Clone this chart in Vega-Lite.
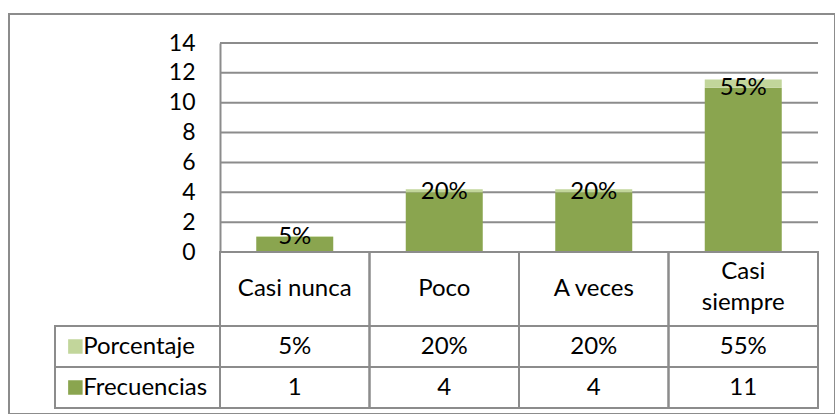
{
  "$schema": "https://vega.github.io/schema/vega-lite/v6.json",
  "width": 826,
  "height": 400,
  "autosize": {"type": "none"},
  "padding": {"left": 9, "top": 14, "right": 0, "bottom": 0},
  "background": "white",
  "config": {
    "view": {"stroke": "#8c8c8c", "strokeWidth": 2},
    "text": {"font": "Lato", "fontSize": 24, "color": "black"}
  },
  "datasets": {
    "d": [
      {"categoria": "Casi nunca", "etiqueta": ["Casi nunca"], "Frecuencias": 1, "Porcentaje": 0.05},
      {"categoria": "Poco", "etiqueta": ["Poco"], "Frecuencias": 4, "Porcentaje": 0.2},
      {"categoria": "A veces", "etiqueta": ["A veces"], "Frecuencias": 4, "Porcentaje": 0.2},
      {"categoria": "Casi siempre", "etiqueta": ["Casi", "siempre"], "Frecuencias": 11, "Porcentaje": 0.55}
    ],
    "series": [{"serie": "Porcentaje"}, {"serie": "Frecuencias"}],
    "ticks": [{"v": 0}, {"v": 2}, {"v": 4}, {"v": 6}, {"v": 8}, {"v": 10}, {"v": 12}, {"v": 14}]
  },
  "resolve": {"scale": {"x": "independent", "y": "independent", "color": "shared"}},
  "layer": [
    {
      "data": {"name": "ticks"},
      "mark": {"type": "rule", "color": "#8c8c8c", "strokeWidth": 2},
      "encoding": {
        "y": {"field": "v", "type": "quantitative", "scale": {"domain": [0, 14], "range": [238, 29], "nice": false, "zero": false},
          "axis": {"values": [0, 2, 4, 6, 8, 10, 12, 14], "offset": -211, "ticks": false, "grid": false, "domain": true, "domainColor": "#8c8c8c", "domainWidth": 2, "labelFont": "Lato", "labelFontSize": 23, "labelColor": "black", "labelPadding": 25, "title": null}},
        "x": {"datum": 0, "type": "quantitative", "scale": {"domain": [0, 1], "range": [211, 809], "nice": false, "zero": false}, "axis": null},
        "x2": {"datum": 1}
      }
    },
    {
      "data": {"name": "d"},
      "transform": [{"fold": ["Frecuencias", "Porcentaje"], "as": ["serie", "valor"]}],
      "mark": {"type": "bar"},
      "encoding": {
        "x": {"field": "categoria", "type": "nominal", "sort": null, "scale": {"type": "band", "range": [211, 809], "paddingInner": 0.485, "paddingOuter": 0.2425}, "axis": null},
        "y": {"field": "valor", "type": "quantitative", "stack": "zero", "scale": {"domain": [0, 14], "range": [238, 29], "nice": false}, "axis": null},
        "color": {"field": "serie", "type": "nominal", "scale": {"domain": ["Porcentaje", "Frecuencias"], "range": ["#c2d69b", "#8aa54f"]}, "legend": null},
        "order": {"field": "serie", "sort": "ascending"}
      }
    },
    {
      "data": {"name": "d"},
      "mark": {"type": "text", "baseline": "middle", "align": "center"},
      "encoding": {
        "x": {"field": "categoria", "type": "nominal", "sort": null, "scale": {"type": "band", "range": [211, 809], "paddingInner": 0, "paddingOuter": 0}, "axis": null},
        "y": {"field": "Frecuencias", "type": "quantitative", "scale": {"domain": [0, 14], "range": [238, 29], "nice": false}, "axis": null},
        "text": {"field": "Porcentaje", "type": "quantitative", "format": ".0%"}
      }
    },
    {
      "data": {"name": "d"},
      "mark": {"type": "rect", "fill": "transparent", "stroke": "#8c8c8c", "strokeWidth": 2},
      "encoding": {
        "x": {"field": "categoria", "type": "nominal", "sort": null, "scale": {"type": "band", "range": [211, 809], "paddingInner": 0, "paddingOuter": 0}, "axis": null},
        "y": {"datum": "h", "type": "nominal", "scale": {"type": "band", "domain": ["h"], "range": [238, 312], "paddingInner": 0, "paddingOuter": 0}, "axis": null}
      }
    },
    {
      "data": {"name": "d"},
      "transform": [{"filter": "datum.categoria !== 'Casi siempre'"}],
      "mark": {"type": "text", "baseline": "middle", "align": "center"},
      "encoding": {
        "x": {"field": "categoria", "type": "nominal", "scale": {"type": "band", "domain": ["Casi nunca", "Poco", "A veces", "Casi siempre"], "range": [211, 809], "paddingInner": 0, "paddingOuter": 0}, "axis": null},
        "y": {"datum": "h", "type": "nominal", "scale": {"type": "band", "domain": ["h"], "range": [238, 312], "paddingInner": 0, "paddingOuter": 0}, "axis": null},
        "text": {"field": "etiqueta", "type": "nominal"}
      }
    },
    {
      "data": {"name": "d"},
      "transform": [{"filter": "datum.categoria === 'Casi siempre'"}],
      "mark": {"type": "text", "baseline": "middle", "align": "center", "lineHeight": 31},
      "encoding": {
        "x": {"field": "categoria", "type": "nominal", "scale": {"type": "band", "domain": ["Casi nunca", "Poco", "A veces", "Casi siempre"], "range": [211, 809], "paddingInner": 0, "paddingOuter": 0}, "axis": null},
        "y": {"datum": "h", "type": "nominal", "scale": {"type": "band", "domain": ["h"], "range": [221, 295], "paddingInner": 0, "paddingOuter": 0}, "axis": null},
        "text": {"field": "etiqueta", "type": "nominal"}
      }
    },
    {
      "data": {"name": "d"},
      "transform": [{"fold": ["Frecuencias", "Porcentaje"], "as": ["serie", "valor"]}],
      "mark": {"type": "rect", "fill": "transparent", "stroke": "#8c8c8c", "strokeWidth": 2},
      "encoding": {
        "x": {"field": "categoria", "type": "nominal", "sort": null, "scale": {"type": "band", "range": [211, 809], "paddingInner": 0, "paddingOuter": 0}, "axis": null},
        "y": {"field": "serie", "type": "nominal", "scale": {"type": "band", "domain": ["Porcentaje", "Frecuencias"], "range": [312, 394], "paddingInner": 0, "paddingOuter": 0}, "axis": null}
      }
    },
    {
      "data": {"name": "d"},
      "transform": [{"fold": ["Frecuencias", "Porcentaje"], "as": ["serie", "valor"]}],
      "mark": {"type": "text", "baseline": "middle", "align": "center"},
      "encoding": {
        "x": {"field": "categoria", "type": "nominal", "sort": null, "scale": {"type": "band", "range": [211, 809], "paddingInner": 0, "paddingOuter": 0}, "axis": null},
        "y": {"field": "serie", "type": "nominal", "scale": {"type": "band", "domain": ["Porcentaje", "Frecuencias"], "range": [312, 394], "paddingInner": 0, "paddingOuter": 0}, "axis": null},
        "text": {"condition": {"test": "datum.serie === 'Porcentaje'", "field": "valor", "type": "quantitative", "format": ".0%"}, "field": "valor", "type": "quantitative", "format": "d"}
      }
    },
    {
      "data": {"name": "series"},
      "mark": {"type": "rect", "fill": "transparent", "stroke": "#8c8c8c", "strokeWidth": 2},
      "encoding": {
        "x": {"datum": "lab", "type": "nominal", "scale": {"type": "band", "domain": ["lab"], "range": [46, 211], "paddingInner": 0, "paddingOuter": 0}, "axis": null},
        "y": {"field": "serie", "type": "nominal", "scale": {"type": "band", "domain": ["Porcentaje", "Frecuencias"], "range": [312, 394], "paddingInner": 0, "paddingOuter": 0}, "axis": null}
      }
    },
    {
      "data": {"name": "series"},
      "mark": {"type": "point", "shape": "square", "filled": true, "opacity": 1, "size": 210},
      "encoding": {
        "x": {"datum": "sq", "type": "nominal", "scale": {"type": "point", "domain": ["sq", "txt"], "range": [62.5, 78]}, "axis": null},
        "y": {"field": "serie", "type": "nominal", "scale": {"type": "band", "domain": ["Porcentaje", "Frecuencias"], "range": [312, 394], "paddingInner": 0, "paddingOuter": 0}, "axis": null},
        "color": {"field": "serie", "type": "nominal", "legend": null}
      }
    },
    {
      "data": {"name": "series"},
      "mark": {"type": "text", "baseline": "middle", "align": "left"},
      "encoding": {
        "x": {"datum": "txt", "type": "nominal", "scale": {"type": "point", "domain": ["sq", "txt"], "range": [62.5, 78]}, "axis": null},
        "y": {"field": "serie", "type": "nominal", "scale": {"type": "band", "domain": ["Porcentaje", "Frecuencias"], "range": [312, 394], "paddingInner": 0, "paddingOuter": 0}, "axis": null},
        "text": {"field": "serie", "type": "nominal"}
      }
    }
  ]
}
